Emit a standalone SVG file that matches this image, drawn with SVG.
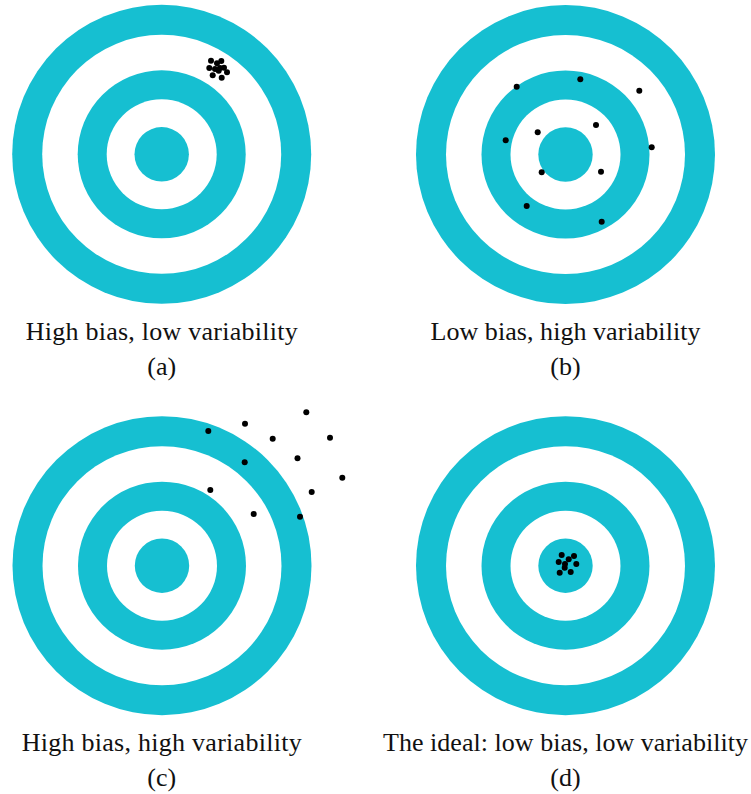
<svg xmlns="http://www.w3.org/2000/svg" width="751" height="794" viewBox="0 0 751 794">
<style>
.c{fill:#16BFD1}
.w{fill:#FFFFFF}
.d{fill:#000000}
.t{font-family:"Liberation Serif","DejaVu Serif",serif;font-size:26px;fill:#111111;text-anchor:middle}
</style>
<defs>
<g id="target">
<circle class="c" r="149.5"/>
<circle class="w" r="119.5"/>
<circle class="c" r="84"/>
<circle class="w" r="55"/>
<circle class="c" r="27.2"/>
</g>
</defs>
<rect width="751" height="794" fill="#FFFFFF"/>
<g id="target-a">
<use href="#target" x="161.7" y="154.3"/>
<g class="d">
<circle cx="211" cy="60.7" r="3"/>
<circle cx="221.3" cy="61" r="3"/>
<circle cx="217" cy="63.3" r="3"/>
<circle cx="209.3" cy="68" r="3"/>
<circle cx="215" cy="69" r="3"/>
<circle cx="220" cy="68" r="3"/>
<circle cx="224" cy="67.7" r="3"/>
<circle cx="227" cy="72.3" r="3"/>
<circle cx="212.7" cy="75.3" r="3"/>
<circle cx="221.7" cy="77.7" r="3"/>
<circle cx="218.7" cy="70.7" r="3"/>
</g>
<text class="t" x="161.7" y="340" textLength="272">High bias, low variability</text>
<text class="t" x="161.7" y="375">(a)</text>
</g>
<g id="target-b">
<use href="#target" x="565.5" y="154.5"/>
<g class="d">
<circle cx="516.7" cy="86.7" r="3"/>
<circle cx="580.3" cy="79.3" r="3"/>
<circle cx="639.3" cy="90.7" r="3"/>
<circle cx="537.7" cy="132.3" r="3"/>
<circle cx="596" cy="125" r="3"/>
<circle cx="505.7" cy="140.3" r="3"/>
<circle cx="651.7" cy="147.3" r="3"/>
<circle cx="541.7" cy="172.3" r="3"/>
<circle cx="601" cy="171.7" r="3"/>
<circle cx="526.7" cy="206" r="3"/>
<circle cx="601.7" cy="221.7" r="3"/>
</g>
<text class="t" x="565.5" y="340" textLength="270">Low bias, high variability</text>
<text class="t" x="565.5" y="375">(b)</text>
</g>
<g id="target-c">
<use href="#target" x="162" y="565.7"/>
<g class="d">
<circle cx="306.3" cy="412.3" r="3"/>
<circle cx="245" cy="423.7" r="3"/>
<circle cx="208.3" cy="431" r="3"/>
<circle cx="272.7" cy="438.7" r="3"/>
<circle cx="330" cy="437.7" r="3"/>
<circle cx="297.5" cy="458.3" r="3"/>
<circle cx="244.7" cy="462.3" r="3"/>
<circle cx="342.3" cy="477.7" r="3"/>
<circle cx="210.3" cy="490" r="3"/>
<circle cx="311.7" cy="492" r="3"/>
<circle cx="253.7" cy="514" r="3"/>
<circle cx="300" cy="516.7" r="3"/>
</g>
<text class="t" x="161.7" y="751" textLength="280">High bias, high variability</text>
<text class="t" x="161.7" y="786">(c)</text>
</g>
<g id="target-d">
<use href="#target" x="565.5" y="565.7"/>
<g class="d">
<circle cx="561.7" cy="555" r="3"/>
<circle cx="574" cy="556" r="3"/>
<circle cx="568.7" cy="559.3" r="3"/>
<circle cx="558.7" cy="562" r="3"/>
<circle cx="565" cy="564" r="3"/>
<circle cx="576.3" cy="564" r="3"/>
<circle cx="564.7" cy="567.7" r="3"/>
<circle cx="559.7" cy="572.7" r="3"/>
<circle cx="570.7" cy="572" r="3"/>
</g>
<text class="t" x="565.5" y="751" textLength="365">The ideal: low bias, low variability</text>
<text class="t" x="565.5" y="786">(d)</text>
</g>
</svg>
